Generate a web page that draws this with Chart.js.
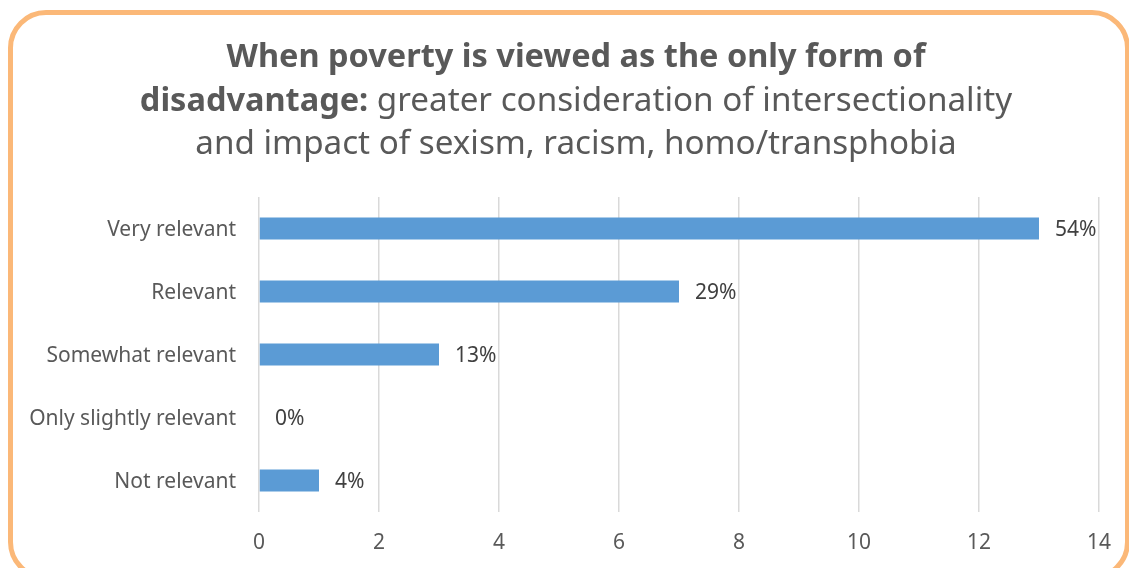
<!DOCTYPE html>
<html>
<head>
<meta charset="utf-8">
<script src="https://cdn.jsdelivr.net/npm/chart.js@4/dist/chart.umd.min.js"></script>
<style>
  html, body { margin: 0; padding: 0; background: #ffffff; }
  #wrap { position: relative; width: 1129px; height: 568px; overflow: hidden; background: #fff; }
  #frame { position: absolute; left: 8px; top: 10px; width: 1112px; height: 560px; border: 5px solid #FBB878; border-radius: 38px; }
  canvas { position: absolute; left: 0; top: 0; }
</style>
</head>
<body>
<div id="wrap">
  <div id="frame"></div>
  <canvas id="c" width="1129" height="568"></canvas>
</div>
<script>
const categories = ['Very relevant', 'Relevant', 'Somewhat relevant', 'Only slightly relevant', 'Not relevant'];
const counts = [13, 7, 3, 0, 1];
const percentLabels = ['54%', '29%', '13%', '0%', '4%'];
const xTicks = [0, 2, 4, 6, 8, 10, 12, 14];
const titleLines = [
  [{ text: 'When poverty is viewed as the only form of', bold: true }],
  [{ text: 'disadvantage:', bold: true }, { text: ' greater consideration of intersectionality', bold: false }],
  [{ text: 'and impact of sexism, racism, homo/transphobia', bold: false }]
];

const FONT = '"Noto Sans", "Liberation Sans", sans-serif';
const TEXT = '#595959';

const titlePlugin = {
  id: 'richTitle',
  afterDraw(chart) {
    const ctx = chart.ctx;
    const cx = 576;
    const baselines = [67, 111, 154];
    ctx.save();
    ctx.fillStyle = TEXT;
    ctx.textBaseline = 'alphabetic';
    ctx.textAlign = 'left';
    const fontFor = s => (s.bold ? 'bold 32.5px ' : '33.2px ') + FONT;
    titleLines.forEach((segs, i) => {
      let total = 0;
      segs.forEach(s => {
        ctx.font = fontFor(s);
        s.w = ctx.measureText(s.text).width;
        total += s.w;
      });
      let x = cx - total / 2;
      segs.forEach(s => {
        ctx.font = fontFor(s);
        ctx.fillText(s.text, x, baselines[i]);
        x += s.w;
      });
    });
    ctx.restore();
  }
};

const valueLabelPlugin = {
  id: 'valueLabels',
  afterDatasetsDraw(chart) {
    const ctx = chart.ctx;
    const meta = chart.getDatasetMeta(0);
    ctx.save();
    ctx.font = '21px ' + FONT;
    ctx.fillStyle = '#404040';
    ctx.textAlign = 'left';
    ctx.textBaseline = 'middle';
    meta.data.forEach((bar, i) => {
      ctx.fillText(percentLabels[i], bar.x + 16, bar.y + 2);
    });
    ctx.restore();
  }
};

new Chart(document.getElementById('c'), {
  type: 'bar',
  data: {
    labels: categories,
    datasets: [{
      data: counts,
      backgroundColor: '#5B9BD5',
      borderWidth: 0,
      barPercentage: 0.35,
      categoryPercentage: 1.0
    }]
  },
  options: {
    indexAxis: 'y',
    responsive: false,
    animation: false,
    devicePixelRatio: 1,
    layout: { padding: { top: 197, right: 29, left: 0, bottom: 0 } },
    plugins: { legend: { display: false }, tooltip: { enabled: false }, title: { display: false } },
    scales: {
      x: {
        min: 0, max: 14,
        afterBuildTicks(scale) { scale.ticks = xTicks.map(v => ({ value: v })); },
        afterFit(scale) { scale.height = 56; },
        grid: { color: '#D9D9D9', lineWidth: 1.5, drawTicks: false },
        border: { display: false },
        ticks: { color: TEXT, font: { family: FONT, size: 21 }, padding: 18 }
      },
      y: {
        afterFit(scale) { scale.width = 259; },
        grid: { display: false },
        border: { display: false },
        ticks: { color: TEXT, font: { family: FONT, size: 21 }, padding: 15, labelOffset: 2 }
      }
    }
  },
  plugins: [titlePlugin, valueLabelPlugin]
});
</script>
</body>
</html>
